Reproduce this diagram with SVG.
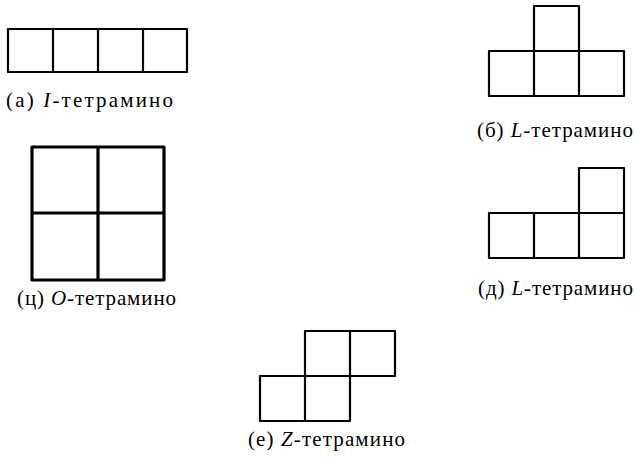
<svg xmlns="http://www.w3.org/2000/svg" width="635" height="467" viewBox="0 0 635 467">
<style>
.c{fill:none;stroke:#000;stroke-width:2.2;stroke-linejoin:round}
.o{fill:none;stroke:#000;stroke-width:3.2;stroke-linejoin:round}
.t{font-family:'Liberation Serif','DejaVu Serif',serif;font-size:21px;fill:#000}
.i{font-style:italic}
</style>
<rect width="635" height="467" fill="#fff"/>
<g id="I-tetromino">
<path class="c" d="M8 29H187V72H8Z M53 29V72 M98 29V72 M143 29V72"/>
<text class="t" x="6" y="107" textLength="167" lengthAdjust="spacing">(а) <tspan class="i">I</tspan>-тетрамино</text>
</g>
<g id="T-tetromino">
<path class="c" d="M534 6H579V51H534Z M489 51H624V96H489Z M534 51V96 M579 51V96"/>
<text class="t" x="477" y="137" textLength="156" lengthAdjust="spacing">(б) <tspan class="i">L</tspan>-тетрамино</text>
</g>
<g id="O-tetromino">
<path class="o" d="M32 147H164V280H32Z M98 147V280 M32 213H164"/>
<text class="t" x="17" y="305" textLength="159" lengthAdjust="spacing">(ц) <tspan class="i">O</tspan>-тетрамино</text>
</g>
<g id="L-tetromino">
<path class="c" d="M579 168H624V213H579Z M489 213H624V258H489Z M534 213V258 M579 213V258"/>
<text class="t" x="478" y="295" textLength="155" lengthAdjust="spacing">(д) <tspan class="i">L</tspan>-тетрамино</text>
</g>
<g id="Z-tetromino">
<path class="c" d="M305 331H395V376H305Z M350 331V376 M260 376H350V421H260Z M305 376V421"/>
<text class="t" x="248" y="446" textLength="157" lengthAdjust="spacing">(е) <tspan class="i">Z</tspan>-тетрамино</text>
</g>
<g id="connectors"/>
</svg>
